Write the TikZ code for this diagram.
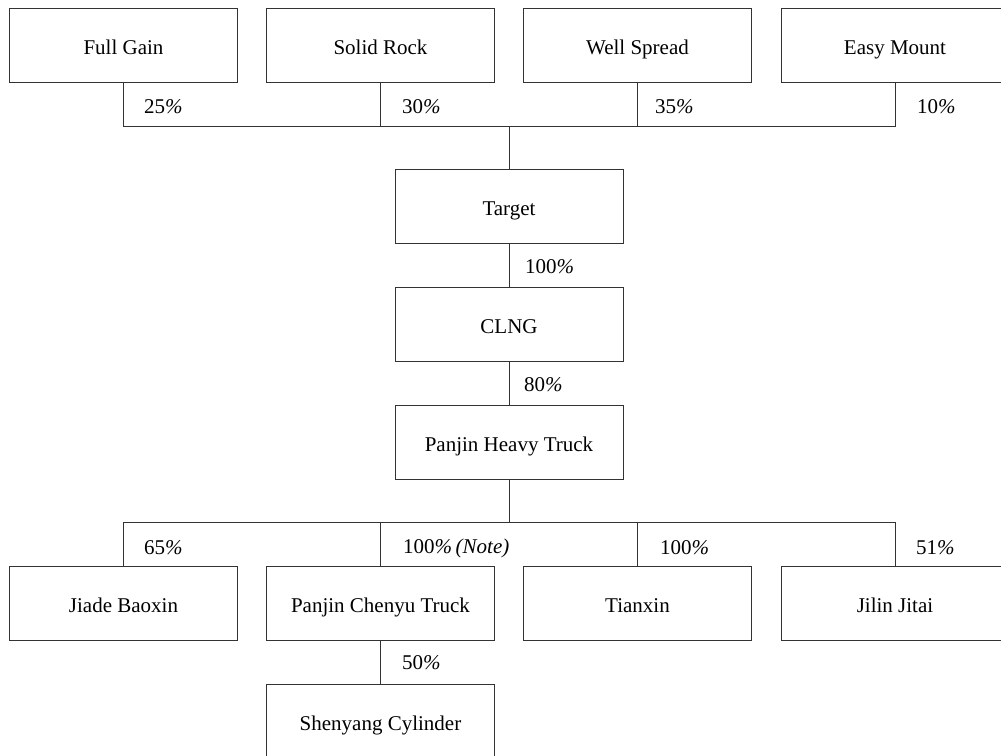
\documentclass[tikz,border=0pt]{standalone}
\usepackage{fontspec}
\setmainfont{Liberation Serif}
\begin{document}
\begin{tikzpicture}[x=1pt,y=-1pt,
  box/.style={draw=black!80, line width=0.9pt, minimum width=228pt, minimum height=74pt, inner sep=0pt, text height=19pt, text depth=0pt, font=\fontsize{21}{25}\selectfont},
  conn/.style={draw=black!80, line width=0.9pt},
  pct/.style={anchor=west, inner sep=0pt, font=\fontsize{21}{25}\selectfont}]
\useasboundingbox (0,0) rectangle (1001,755);
\clip (0,0) rectangle (1001,755);
\newcommand{\pc}{{\itshape\%}}
% boxes
\node[box] (fg) at (123.5,45) {Full Gain};
\node[box] (sr) at (380.5,45) {Solid Rock};
\node[box] (ws) at (637.5,45) {Well Spread};
\node[box] (em) at (895,45) {Easy Mount};
\node[box] (tg) at (509,206) {Target};
\node[box] (cl) at (509,324) {CLNG};
\node[box] (ph) at (509,442) {Panjin Heavy Truck};
\node[box] (jb) at (123.5,603) {Jiade Baoxin};
\node[box] (pc) at (380.5,603) {Panjin Chenyu Truck};
\node[box] (tx) at (637.5,603) {Tianxin};
\node[box] (jj) at (895,603) {Jilin Jitai};
\node[box] (sc) at (380.5,721) {Shenyang Cylinder};
\coordinate (tb) at (509,126);
\coordinate (bb) at (509,522);
\draw[conn] (fg.south) |- (tb);
\draw[conn] (sr.south) |- (tb);
\draw[conn] (ws.south) |- (tb);
\draw[conn] (em.south) |- (tb);
\draw[conn] (tb) -- (tg.north);
\draw[conn] (tg.south) -- (cl.north);
\draw[conn] (cl.south) -- (ph.north);
\draw[conn] (ph.south) -- (bb);
\draw[conn] (bb) -| (jb.north);
\draw[conn] (bb) -| (pc.north);
\draw[conn] (bb) -| (tx.north);
\draw[conn] (bb) -| (jj.north);
\draw[conn] (pc.south) -- (sc.north);
% labels
\node[pct] (l1) at (144,107) {25\pc};
\node[pct] (l2) at (402,107) {30\pc};
\node[pct] (l3) at (655,107) {35\pc};
\node[pct] (l4) at (917,107) {10\pc};
\node[pct] (l5) at (525,267) {100\pc};
\node[pct] (l6) at (524,385) {80\pc};
\node[pct] (l7) at (144,548) {65\pc};
\node[pct] (l8) at (403,548) {100\pc\,\textit{(Note)}};
\node[pct] (l9) at (660,548) {100\pc};
\node[pct] (l10) at (916,548) {51\pc};
\node[pct] (l11) at (402,663) {50\pc};
\end{tikzpicture}
\end{document}
